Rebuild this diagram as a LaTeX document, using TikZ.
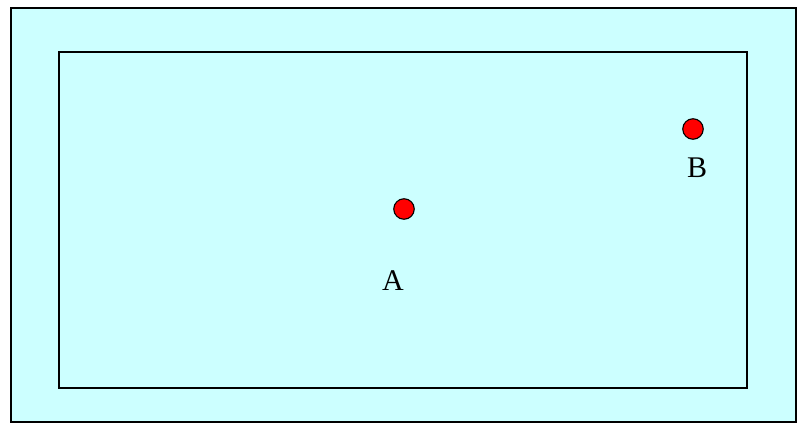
\documentclass[tikz,border=0pt]{standalone}
\usepackage{fontspec}
\setmainfont{Liberation Serif}
\definecolor{ciano}{HTML}{CCFFFF}
\definecolor{rosso}{HTML}{FF0000}
\tikzset{
    punto/.style={circle, draw=black, fill=rosso, line width=1.1pt, minimum size=20.5pt, inner sep=0pt},
    etichetta/.style={font=\fontsize{30}{34}\selectfont, inner sep=0pt}
}
\begin{document}
\begin{tikzpicture}[x=1pt, y=-1pt]
    % Area del disegno (798x425)
    \useasboundingbox (0,0) rectangle (798,425);

    % Riquadro esterno e riquadro interno
    \draw[line width=1.6pt, fill=ciano] (11,8) rectangle (796,422);
    \draw[line width=1.8pt] (59,52) rectangle (747,388);

    % Punti A e B
    \node[punto] (puntoA) at (404,209) {};
    \node[punto] (puntoB) at (693,129) {};

    % Etichette
    \node[etichetta] (labelA) at (393,281) {A};
    \node[etichetta] (labelB) at (697,168) {B};
\end{tikzpicture}
\end{document}
